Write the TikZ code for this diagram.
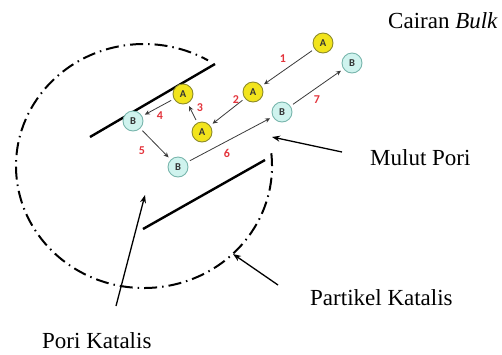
\documentclass[tikz,border=0pt]{standalone}
\usepackage{fontspec}
\setmainfont{Liberation Serif}
\newfontfamily\numfont{Carlito}
\usetikzlibrary{arrows.meta}
\definecolor{molA}{HTML}{F2E41C}
\definecolor{molAedge}{HTML}{8C8A2A}
\definecolor{molB}{HTML}{CFF3EE}
\definecolor{molBedge}{HTML}{78B5AC}
\definecolor{steplbl}{HTML}{E3343C}
\definecolor{flow}{HTML}{3A3A3A}
\tikzset{
  molecule/.style={circle, minimum size=20pt, inner sep=0pt, line width=0.9pt,
    font=\numfont\bfseries\fontsize{10.5}{10.5}\selectfont, text=black!80},
  speciesA/.style={molecule, fill=molA, draw=molAedge},
  speciesB/.style={molecule, fill=molB, draw=molBedge},
  flowarrow/.style={draw=flow, line width=0.8pt, -{Stealth[length=5pt,width=4.5pt]},
    shorten <=3pt, shorten >=3pt},
  steptag/.style={text=steplbl, font=\numfont\bfseries\fontsize{12}{12}\selectfont, inner sep=0pt},
  caption/.style={font=\fontsize{23}{23}\selectfont, anchor=base west, inner sep=0pt},
  pointer/.style={line width=1.3pt, -{Stealth[length=8pt,width=6pt]}},
  shell/.style={line width=2pt, dash pattern=on 13pt off 5pt on 1.5pt off 5pt},
  wall/.style={line width=2.4pt}
}
\begin{document}
\begin{tikzpicture}[x=1pt,y=-1pt]
\useasboundingbox (0,0) rectangle (502,354);

% catalyst particle outline, open at the pore mouth
\draw[shell] (144,166) ++(-6:128 and 122) arc[start angle=-6, end angle=300, x radius=128, y radius=122];

% pore walls
\draw[wall] (215,64) -- (90,137);
\draw[wall] (265,160) -- (143,229);

% molecules
\node[speciesA] (a1) at (323,43) {A};
\node[speciesA] (a2) at (253,92) {A};
\node[speciesA] (a3) at (202,132) {A};
\node[speciesA] (a4) at (183,94) {A};
\node[speciesB] (b1) at (133,121) {B};
\node[speciesB] (b2) at (178,167) {B};
\node[speciesB] (b3) at (282,112) {B};
\node[speciesB] (b4) at (352,63) {B};

% reaction and transport steps
\draw[flowarrow] (a1) -- (a2);
\draw[flowarrow] (a2) -- (a3);
\draw[flowarrow] (a3) -- (a4);
\draw[flowarrow] (a4) -- (b1);
\draw[flowarrow] (b1) -- (b2);
\draw[flowarrow] (b2) -- (b3);
\draw[flowarrow] (b3) -- (b4);

\node[steptag] (s1) at (283,59) {1};
\node[steptag] (s2) at (236,100) {2};
\node[steptag] (s3) at (200,108) {3};
\node[steptag] (s4) at (160,116) {4};
\node[steptag] (s5) at (142,151) {5};
\node[steptag] (s6) at (227,153) {6};
\node[steptag] (s7) at (317,100) {7};

% captions
\node[caption] (bulk) at (388,28) {Cairan \textit{Bulk}};
\node[caption] (mulut) at (370,165) {Mulut Pori};
\node[caption] (partikel) at (310,305) {Partikel Katalis};
\node[caption] (pori) at (42,348) {Pori Katalis};

% caption pointers
\coordinate (mulutTail) at (342,152);
\coordinate (mouth) at (272,137);
\coordinate (partikelTail) at (278,285);
\coordinate (rim) at (233,254);
\coordinate (poriTail) at (116,306);
\coordinate (poreSpace) at (145,195);
\draw[pointer] (mulutTail) -- (mouth);
\draw[pointer] (partikelTail) -- (rim);
\draw[pointer] (poriTail) -- (poreSpace);
\end{tikzpicture}
\end{document}
